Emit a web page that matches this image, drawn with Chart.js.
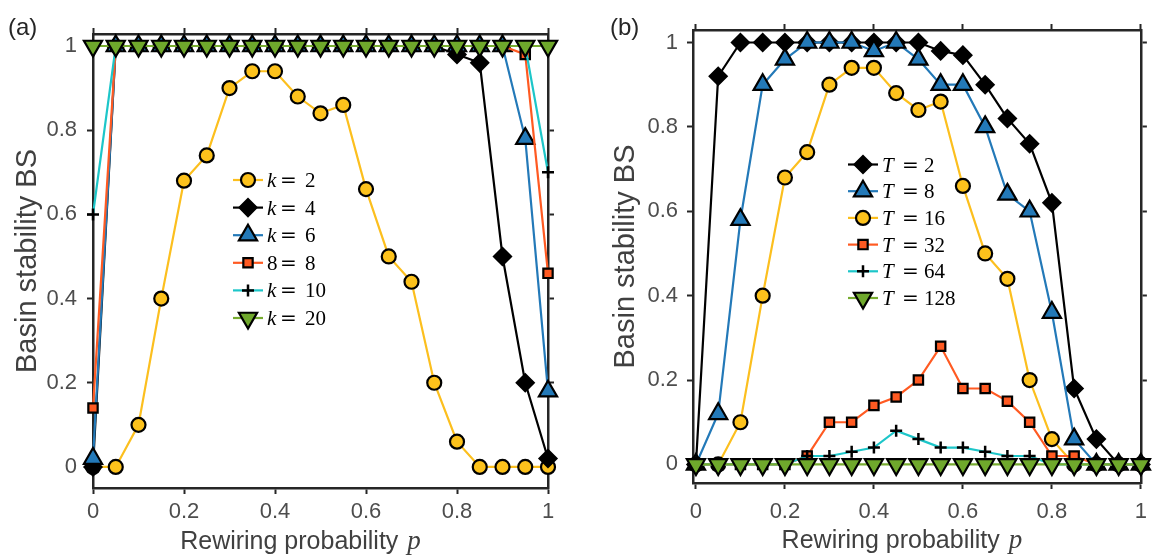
<!DOCTYPE html>
<html>
<head>
<meta charset="utf-8">
<script src="https://cdn.jsdelivr.net/npm/chart.js@4.4.1/dist/chart.umd.min.js"></script>
<style>
  body { margin: 0; background: #fff; }
  .panel { position: absolute; top: 0; }
</style>
</head>
<body>
<div class="panel" style="left:0"><canvas id="chartA" width="580" height="556"></canvas></div>
<div class="panel" style="left:580px"><canvas id="chartB" width="577" height="556"></canvas></div>
<script>
// rewiring probability p
const p = [0, 0.05, 0.1, 0.15, 0.2, 0.25, 0.3, 0.35, 0.4, 0.45, 0.5,
           0.55, 0.6, 0.65, 0.7, 0.75, 0.8, 0.85, 0.9, 0.95, 1];
const xTicks = [0, 0.2, 0.4, 0.6, 0.8, 1];
const yTicks = [0, 0.2, 0.4, 0.6, 0.8, 1];

// (a) basin stability for several k
const bsK2  = [0, 0, 0.1, 0.4, 0.68, 0.74, 0.9, 0.94, 0.94, 0.88, 0.84, 0.86, 0.66, 0.5, 0.44, 0.2, 0.06, 0, 0, 0, 0];
const bsK4  = [0, 1, 1, 1, 1, 1, 1, 1, 1, 1, 1, 1, 1, 1, 1, 1, 0.98, 0.96, 0.5, 0.2, 0.02];
const bsK6  = [0.02, 1, 1, 1, 1, 1, 1, 1, 1, 1, 1, 1, 1, 1, 1, 1, 1, 1, 1, 0.78, 0.18];
const bsK8  = [0.14, 1, 1, 1, 1, 1, 1, 1, 1, 1, 1, 1, 1, 1, 1, 1, 1, 1, 1, 0.98, 0.46];
const bsK10 = [0.6, 1, 1, 1, 1, 1, 1, 1, 1, 1, 1, 1, 1, 1, 1, 1, 1, 1, 1, 1, 0.7];
const bsK20 = [1, 1, 1, 1, 1, 1, 1, 1, 1, 1, 1, 1, 1, 1, 1, 1, 1, 1, 1, 1, 1];
const legendA = [['k', '2'], ['k', '4'], ['k', '6'], ['8', '8'], ['k', '10'], ['k', '20']];

// (b) basin stability for several T
const bsT2   = [0, 0.92, 1, 1, 1, 1, 1, 1, 1, 1, 1, 0.98, 0.97, 0.9, 0.82, 0.76, 0.62, 0.18, 0.06, 0, 0];
const bsT8   = [0, 0.12, 0.58, 0.9, 0.96, 1, 1, 1, 0.98, 1, 0.96, 0.9, 0.9, 0.8, 0.64, 0.6, 0.36, 0.06, 0, 0, 0];
const bsT16  = [0, 0, 0.1, 0.4, 0.68, 0.74, 0.9, 0.94, 0.94, 0.88, 0.84, 0.86, 0.66, 0.5, 0.44, 0.2, 0.06, 0, 0, 0, 0];
const bsT32  = [0, 0, 0, 0, 0, 0.02, 0.1, 0.1, 0.14, 0.16, 0.2, 0.28, 0.18, 0.18, 0.15, 0.1, 0.02, 0.02, 0, 0, 0];
const bsT64  = [0, 0, 0, 0, 0, 0.02, 0.02, 0.03, 0.04, 0.08, 0.06, 0.04, 0.04, 0.03, 0.02, 0.02, 0, 0, 0, 0, 0];
const bsT128 = [0, 0, 0, 0, 0, 0, 0, 0, 0, 0, 0, 0, 0, 0, 0, 0, 0, 0, 0, 0, 0];
const legendB = [['T', '2'], ['T', '8'], ['T', '16'], ['T', '32'], ['T', '64'], ['T', '128']];

const AXIS = '#262626';
const LABEL = '#4d4d4d';
const SANS = '"Liberation Sans", Arial, Helvetica, sans-serif';
const SERIF = '"Liberation Serif", "Times New Roman", serif';

const marks = {
  yellow: { line: '#fcbf1e', fill: '#fdc21c', edge: '#000', shape: 'circle', r: 7 },
  black:  { line: '#000000', fill: '#000000', edge: '#000', shape: 'rectRot', r: 8.5 },
  blue:   { line: '#2379b8', fill: '#2379b8', edge: '#000', shape: 'triangle', r: 10.5 },
  orange: { line: '#ff5a22', fill: '#ff5a22', edge: '#000', shape: 'rect', r: 6.6 },
  cyan:   { line: '#1dc6c9', fill: '#000000', edge: '#000', shape: 'cross', r: 6, w: 2.5 },
  green:  { line: '#77ac30', fill: '#6fa82c', edge: '#000', shape: 'triangle', r: 10.5, rot: 180 }
};

function series(values, m) {
  return {
    data: values.map((v, i) => ({ x: p[i], y: v })),
    borderColor: m.line,
    borderWidth: 2.2,
    tension: 0,
    clip: false,
    pointStyle: m.shape,
    pointRadius: m.r,
    pointRotation: m.rot || 0,
    pointBackgroundColor: m.fill,
    pointBorderColor: m.edge,
    pointBorderWidth: m.w || 2.2
  };
}

function axis(position, min, max, ticks, size, labels, pad) {
  return {
    type: 'linear',
    axis: (position === 'top' || position === 'bottom') ? 'x' : 'y',
    position: position,
    min: min,
    max: max,
    afterBuildTicks: s => { s.ticks = ticks.map(v => ({ value: v })); },
    afterFit: s => { if (s.isHorizontal()) s.height = size; else s.width = size; },
    border: { color: AXIS, width: 2.5 },
    grid: { drawOnChartArea: false, drawTicks: true, tickLength: 6, tickWidth: 2, tickColor: AXIS },
    ticks: {
      display: labels,
      padding: pad,
      color: LABEL,
      font: { family: SANS, size: 22 },
      callback: v => String(v)
    }
  };
}

// panel tag, x title with italic p, and the legend box
const overlay = {
  id: 'overlay',
  afterDraw(chart, args, o) {
    const ctx = chart.ctx;
    const area = chart.chartArea;
    ctx.save();
    ctx.textBaseline = 'alphabetic';
    ctx.textAlign = 'left';

    ctx.fillStyle = AXIS;
    ctx.font = '24px ' + SANS;
    ctx.fillText(o.tag, o.tagX, 35);

    ctx.fillStyle = '#404040';
    ctx.font = '25px ' + SANS;
    const t1 = 'Rewiring probability';
    const w1 = ctx.measureText(t1).width;
    ctx.font = 'italic 27px ' + SERIF;
    const w2 = ctx.measureText('p').width;
    const gap = 9;
    const x0 = (area.left + area.right) / 2 - (w1 + gap + w2) / 2 + o.titleShift;
    ctx.font = '25px ' + SANS;
    ctx.fillText(t1, x0, o.titleY);
    ctx.font = 'italic 27px ' + SERIF;
    ctx.fillText('p', x0 + w1 + gap, o.titleY);

    chart.data.datasets.forEach((ds, i) => {
      const y = o.legY + i * o.legStep;
      const lx = o.legX;
      ctx.strokeStyle = ds.borderColor;
      ctx.lineWidth = ds.borderWidth;
      ctx.beginPath();
      ctx.moveTo(lx, y);
      ctx.lineTo(lx + 30, y);
      ctx.stroke();

      ctx.fillStyle = ds.pointBackgroundColor;
      ctx.strokeStyle = ds.pointBorderColor;
      ctx.lineWidth = ds.pointBorderWidth;
      Chart.helpers.drawPoint(ctx, {
        pointStyle: ds.pointStyle,
        radius: ds.pointRadius,
        rotation: ds.pointRotation,
        borderWidth: ds.pointBorderWidth
      }, lx + 15, y);

      const [sym, val] = o.entries[i];
      const tx = lx + 34;
      ctx.fillStyle = '#000';
      ctx.font = (/[a-zA-Z]/.test(sym) ? 'italic ' : '') + '21px ' + SERIF;
      ctx.fillText(sym, tx, y + 7);
      ctx.font = '20px "DejaVu Serif", serif';
      ctx.fillText('=', tx + o.eqOff, y + 7);
      ctx.font = '21px ' + SERIF;
      ctx.fillText(val, tx + o.numOff, y + 7);
    });
    ctx.restore();
  }
};

function panel(id, sets, geo) {
  return new Chart(document.getElementById(id), {
    type: 'line',
    data: { datasets: sets.map((s, i) => Object.assign(s, { order: sets.length - i })) },
    options: {
      responsive: false,
      animation: false,
      devicePixelRatio: 1,
      layout: { padding: 0 },
      plugins: {
        legend: { display: false },
        tooltip: { enabled: false },
        overlay: geo.overlay
      },
      scales: {
        x: axis('bottom', geo.xMin, 1, xTicks, geo.bottom, true, geo.xPad),
        xTop: axis('top', geo.xMin, 1, xTicks, geo.top, false, 0),
        y: Object.assign(axis('left', geo.yMin, geo.yMax, yTicks, geo.left, true, geo.yPad), {
          title: {
            display: true,
            text: 'Basin stability BS',
            color: '#404040',
            font: { family: SANS, size: 29, lineHeight: 1 },
            padding: { top: geo.yTitlePad, bottom: 0 }
          }
        }),
        yRight: axis('right', geo.yMin, geo.yMax, yTicks, geo.right, false, 0)
      }
    },
    plugins: [overlay]
  });
}

panel('chartA', [
  series(bsK2, marks.yellow),
  series(bsK4, marks.black),
  series(bsK6, marks.blue),
  series(bsK8, marks.orange),
  series(bsK10, marks.cyan),
  series(bsK20, marks.green)
], {
  xMin: 0, yMin: -0.05, yMax: 1.0285,
  left: 93, right: 32, top: 34, bottom: 68,
  xPad: 5, yPad: 10, yTitlePad: 13,
  overlay: {
    tag: '(a)', tagX: 8, titleY: 549, titleShift: -20,
    legX: 233, legY: 180, legStep: 27.6, eqOff: 13, numOff: 38,
    entries: legendA
  }
});

panel('chartB', [
  series(bsT2, marks.black),
  series(bsT8, marks.blue),
  series(bsT16, marks.yellow),
  series(bsT32, marks.orange),
  series(bsT64, marks.cyan),
  series(bsT128, marks.green)
], {
  xMin: -0.0066, yMin: -0.044, yMax: 1.0296,
  left: 113, right: 9, top: 30, bottom: 73,
  xPad: 10, yPad: 9, yTitlePad: 31,
  overlay: {
    tag: '(b)', tagX: 30, titleY: 548, titleShift: -15,
    legX: 268, legY: 164.5, legStep: 26.7, eqOff: 20, numOff: 42,
    entries: legendB
  }
});
</script>
</body>
</html>
